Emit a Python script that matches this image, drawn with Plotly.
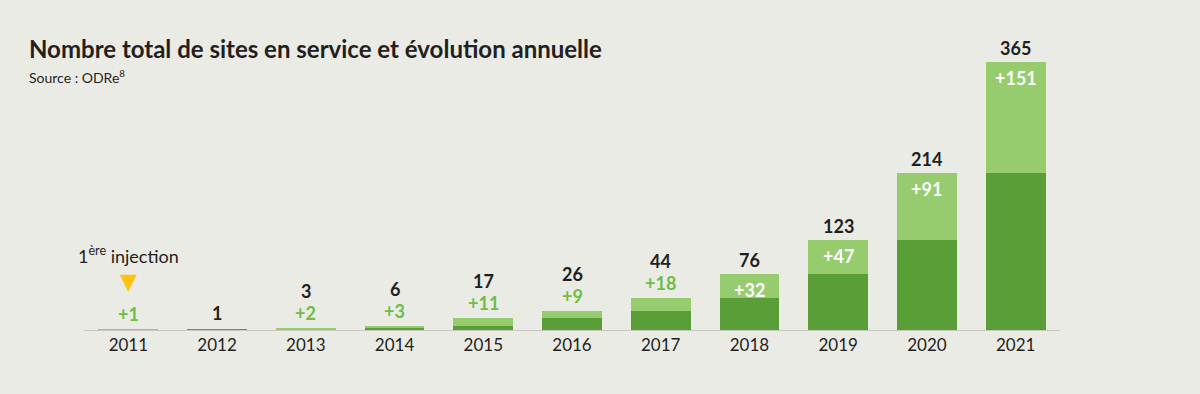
import plotly.graph_objects as go

years = ["2011", "2012", "2013", "2014", "2015", "2016", "2017", "2018", "2019", "2020", "2021"]
totals = [1, 1, 3, 6, 17, 26, 44, 76, 123, 214, 365]
increments = [1, 0, 2, 3, 11, 9, 18, 32, 47, 91, 151]
previous = [t - i for t, i in zip(totals, increments)]
pos = list(range(len(years)))

DARK = "#5a9e37"
LIGHT = "#96cc6e"
LABEL_GREEN = "#6dbe45"
TEXT = "#231f20"
BG = "#ebebe5"
FONT = "Lato"
LS = 18

fig = go.Figure()
fig.add_bar(x=pos, y=previous, width=0.675, marker=dict(color=DARK, line=dict(width=0)), hoverinfo="skip")
fig.add_bar(x=pos, y=increments, width=0.675, marker=dict(color=LIGHT, line=dict(width=0)), hoverinfo="skip")

ann = []
inside_threshold = 30
for p, yr, tot, inc in zip(pos, years, totals, increments):
    if inc == 0:
        ann.append(dict(x=p, y=tot, text=f"<b>{tot}</b>", yshift=16, showarrow=False,
                        font=dict(size=LS, color=TEXT, family=FONT)))
        continue
    if inc >= inside_threshold:
        ann.append(dict(x=p, y=tot, text=f"<b>{tot}</b>", yshift=14, showarrow=False,
                        font=dict(size=LS, color=TEXT, family=FONT)))
        ann.append(dict(x=p, y=tot, text=f"<b>+{inc}</b>", yshift=-16, showarrow=False,
                        font=dict(size=LS, color="white", family=FONT)))
    else:
        if p != 0:
            ann.append(dict(x=p, y=tot, text=f"<b>{tot}</b>", yshift=37, showarrow=False,
                            font=dict(size=LS, color=TEXT, family=FONT)))
        ann.append(dict(x=p, y=tot, text=f"<b>+{inc}</b>", yshift=15, showarrow=False,
                        font=dict(size=LS, color=LABEL_GREEN, family=FONT)))

# first injection marker
ann.append(dict(x=pos[0], y=totals[0], text="1<sup>ère</sup> injection", yshift=74, showarrow=False,
                font=dict(size=18, color=TEXT, family=FONT)))
ann.append(dict(x=pos[0], y=totals[0], text="▼", yshift=48, showarrow=False,
                font=dict(size=22, color="#ffc20e", family="DejaVu Sans")))

# title and source
ann.append(dict(xref="paper", yref="paper", x=0, y=1, xanchor="left", yanchor="middle",
                xshift=-57, yshift=14, showarrow=False,
                text="<b>Nombre total de sites en service et évolution annuelle</b>",
                font=dict(size=24, color=TEXT, family=FONT)))
ann.append(dict(xref="paper", yref="paper", x=0, y=1, xanchor="left", yanchor="middle",
                xshift=-57, yshift=-14, showarrow=False,
                text="Source : ODRe<sup>8</sup>",
                font=dict(size=14, color=TEXT, family=FONT)))

fig.update_layout(
    barmode="stack",
    width=1200, height=394,
    margin=dict(l=84, r=140, t=62, b=64),
    paper_bgcolor=BG, plot_bgcolor=BG,
    showlegend=False,
    annotations=ann,
    xaxis=dict(range=[-0.5, 10.5], tickmode="array", tickvals=pos, ticktext=years,
               showgrid=False, zeroline=False, showline=True, linecolor="#c8c8c0", linewidth=1,
               ticks="", tickfont=dict(size=17, color=TEXT, family=FONT), fixedrange=True),
    yaxis=dict(range=[0, 365], visible=False, showgrid=False, zeroline=False, fixedrange=True),
)

fig.write_html("out.html", config={"displayModeBar": False},
               post_script="document.body.style.margin='0';document.body.style.background='#ebebe5';")
